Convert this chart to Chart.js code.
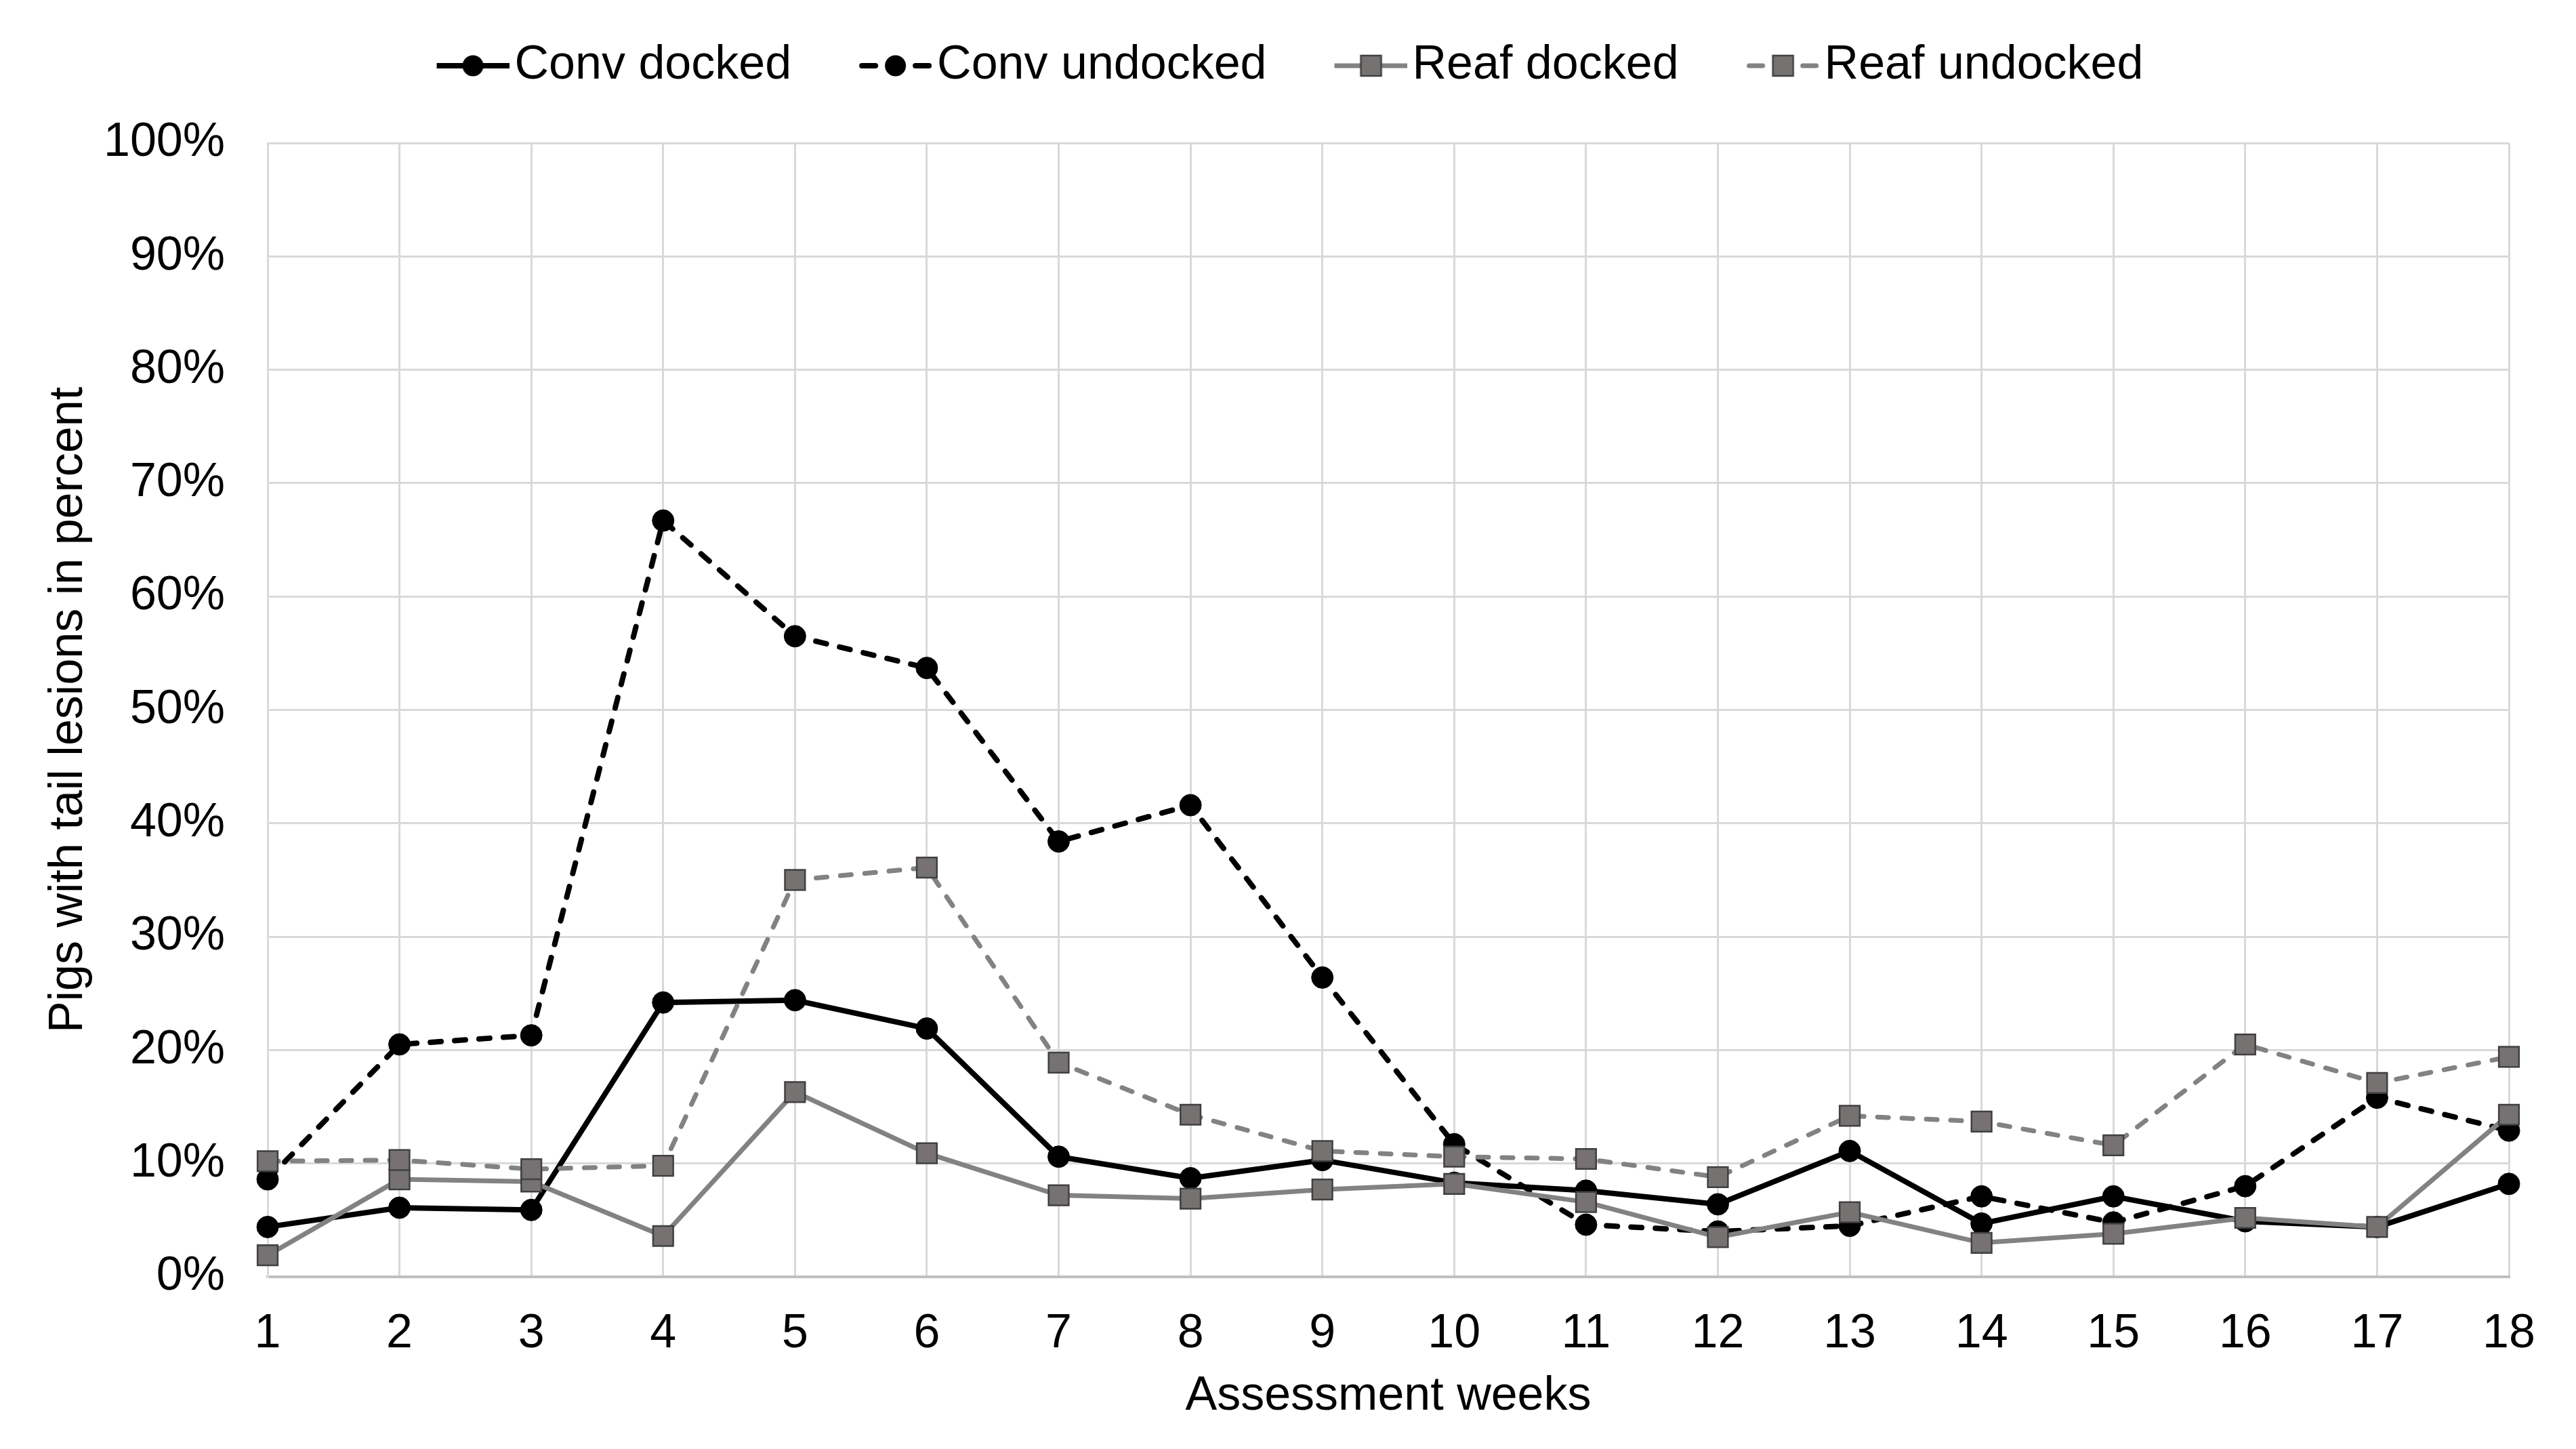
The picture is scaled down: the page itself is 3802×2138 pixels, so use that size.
<!DOCTYPE html>
<html>
<head>
<meta charset="utf-8">
<title>Tail lesions</title>
<script src="https://cdn.jsdelivr.net/npm/chart.js@4/dist/chart.umd.min.js"></script>
<style>
  html, body { margin: 0; padding: 0; background: #fff; }
  canvas { display: block; }
</style>
</head>
<body>
<canvas id="chart" width="3802" height="2138"></canvas>
<script>
// weeks and percent of pigs with tail lesions
const weeks = ['1','2','3','4','5','6','7','8','9','10','11','12','13','14','15','16','17','18'];
const convDocked   = [4.4, 6.1, 5.9, 24.2, 24.4, 21.9, 10.6, 8.7, 10.3, 8.3, 7.6, 6.4, 11.1, 4.7, 7.1, 4.9, 4.4, 8.2];
const convUndocked = [8.6, 20.5, 21.3, 66.7, 56.5, 53.7, 38.4, 41.6, 26.4, 11.7, 4.6, 4.0, 4.5, 7.1, 4.8, 8.0, 15.8, 12.9];
const reafDocked   = [1.9, 8.6, 8.4, 3.6, 16.3, 10.9, 7.2, 6.9, 7.7, 8.2, 6.6, 3.5, 5.7, 3.0, 3.8, 5.2, 4.4, 14.3];
const reafUndocked = [10.2, 10.3, 9.5, 9.8, 35.0, 36.1, 18.9, 14.3, 11.1, 10.6, 10.4, 8.8, 14.2, 13.7, 11.6, 20.5, 17.1, 19.4];
const seriesNames  = ['Conv docked', 'Conv undocked', 'Reaf docked', 'Reaf undocked'];
const yTicks = [0, 10, 20, 30, 40, 50, 60, 70, 80, 90, 100];

const BLACK = '#000000', GRAY = '#828282', SQ_FILL = '#767272', SQ_EDGE = '#404040';
const DASH = [16, 20]; // with round caps -> ~24 on / 12 off

Chart.defaults.font.family = "'Liberation Sans', Arial, sans-serif";
Chart.defaults.color = '#000';

// legend swatch: short line with the marker in the middle
function legendImg(color, width, dashed, square){
  const c = document.createElement('canvas');
  c.width = 214; c.height = 44;
  const g = c.getContext('2d');
  g.strokeStyle = color; g.lineWidth = width; g.lineCap = dashed ? 'round' : 'butt';
  g.setLineDash(dashed ? [20, 59] : []);
  g.beginPath(); g.moveTo(dashed ? 111 : 107, 22); g.lineTo(dashed ? 214 : 214, 22); g.stroke();
  g.setLineDash([]);
  if(square){
    g.fillStyle = SQ_FILL; g.strokeStyle = SQ_EDGE; g.lineWidth = 2.5;
    g.fillRect(146, 7, 30, 30); g.strokeRect(146, 7, 30, 30);
  } else {
    g.fillStyle = BLACK;
    g.beginPath(); g.arc(160.5, 22, 15.5, 0, Math.PI*2); g.fill();
  }
  return c;
}
const legendImgs = [
  legendImg(BLACK, 8, false, false),
  legendImg(BLACK, 8, true, false),
  legendImg(GRAY, 7, false, true),
  legendImg(GRAY, 7, true, true)
];

function circleSet(label, data, dashed, order){
  return { label, data, order, borderColor: BLACK, borderWidth: 8, borderDash: dashed ? DASH : [],
    borderCapStyle: dashed ? 'round' : 'butt',
    pointStyle: 'circle', pointRadius: 16, pointBackgroundColor: BLACK, pointBorderColor: BLACK, pointBorderWidth: 1,
    tension: 0, fill: false, clip: false };
}
function squareSet(label, data, dashed, order){
  return { label, data, order, borderColor: GRAY, borderWidth: 7, borderDash: dashed ? DASH : [],
    borderCapStyle: dashed ? 'round' : 'butt',
    pointStyle: 'rect', pointRadius: 21, pointBackgroundColor: SQ_FILL, pointBorderColor: SQ_EDGE, pointBorderWidth: 2.5,
    tension: 0, fill: false, clip: false };
}

new Chart(document.getElementById('chart'), {
  type: 'line',
  data: {
    labels: weeks,
    datasets: [
      circleSet(seriesNames[0], convDocked, false, 4),
      circleSet(seriesNames[1], convUndocked, true, 3),
      squareSet(seriesNames[2], reafDocked, false, 2),
      squareSet(seriesNames[3], reafUndocked, true, 1)
    ]
  },
  options: {
    responsive: false,
    animation: false,
    layout: { padding: { top: 42, left: 25, right: 99, bottom: 0 } },
    plugins: {
      tooltip: { enabled: false },
      legend: {
        position: 'top', weight: 3000,
        labels: {
          usePointStyle: true, pointStyleWidth: 160, padding: 20,
          font: { size: 70 }, color: '#000',
          generateLabels(chart){
            const items = Chart.defaults.plugins.legend.labels.generateLabels(chart);
            items.forEach(it => { it.pointStyle = legendImgs[it.datasetIndex]; });
            return items.sort((a, b) => a.datasetIndex - b.datasetIndex);
          }
        }
      },
      // empty title used as spacing between legend and plot
      title: { display: true, text: '', padding: { top: 0, bottom: 59 }, font: { size: 10, lineHeight: 1 } }
    },
    scales: {
      x: {
        type: 'category',
        offset: false,
        grid: { color: '#d9d9d9', lineWidth: 3, drawTicks: false, offset: false },
        border: { color: '#bfbfbf', width: 4 },
        ticks: { font: { size: 70 }, color: '#000', padding: 43, maxRotation: 0, autoSkip: false },
        title: { display: true, text: 'Assessment weeks', font: { size: 70 }, color: '#000', padding: { top: 0, bottom: 35 } },
        afterFit(scale){ scale.height = 254; }
      },
      y: {
        min: 0, max: 100,
        afterBuildTicks(scale){ scale.ticks = yTicks.map(v => ({ value: v })); },
        grid: { color: '#d9d9d9', lineWidth: 3, drawTicks: false },
        border: { color: '#d9d9d9', width: 3 },
        ticks: { font: { size: 70 }, color: '#000', padding: 63, callback: v => v + '%' },
        title: { display: true, text: 'Pigs with tail lesions in percent', font: { size: 70 }, color: '#000', padding: { top: 35, bottom: 0 } },
        afterFit(scale){ scale.width = 370; }
      }
    }
  }
});
</script>
</body>
</html>
